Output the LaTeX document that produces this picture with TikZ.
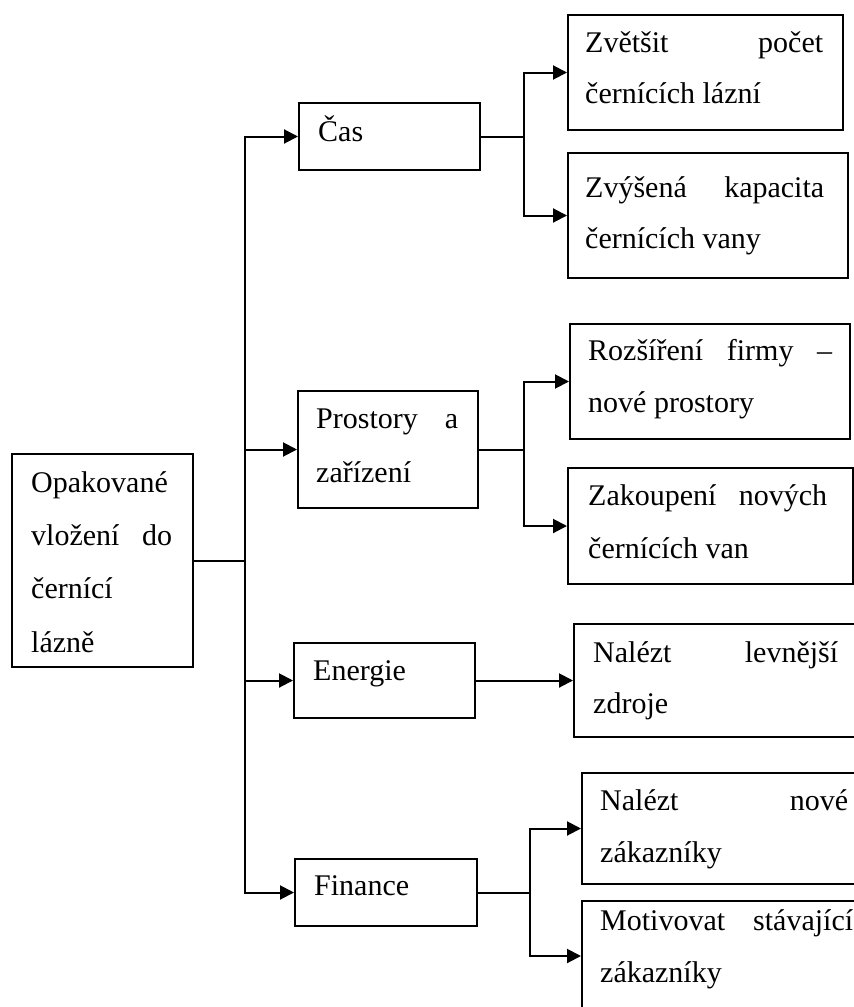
\documentclass[tikz,border=0pt]{standalone}
\usepackage{fontspec}
\setmainfont{Liberation Serif}
\usetikzlibrary{arrows.meta}
\begin{document}
\begin{tikzpicture}[x=1pt,y=-1pt,
  box/.style={draw, line width=2pt, inner sep=0pt, anchor=north west},
  txt/.style={anchor=base west, inner sep=0pt, font=\fontsize{30}{53}\selectfont},
  link/.style={line width=2pt, line cap=rect},
  arr/.style={link, -{Triangle[length=14pt,width=14pt]}}]
\useasboundingbox (0,0) rectangle (854,1007);
\clip (0,0) rectangle (854,1007);
% boxes
\node[box, minimum width=181pt, minimum height=213pt] (root) at (11,453) {};
\node[box, minimum width=181pt, minimum height=67pt] (cas) at (298,102) {};
\node[box, minimum width=180pt, minimum height=117pt] (pro) at (297,390) {};
\node[box, minimum width=181pt, minimum height=75pt] (ene) at (293,642) {};
\node[box, minimum width=182pt, minimum height=67pt] (fin) at (294,858) {};
\node[box, minimum width=275pt, minimum height=115pt] (z1) at (567,14) {};
\node[box, minimum width=280pt, minimum height=125pt] (z2) at (567,152) {};
\node[box, minimum width=280pt, minimum height=115pt] (r1) at (569,323) {};
\node[box, minimum width=285pt, minimum height=116pt] (r2) at (567,467) {};
\node[box, minimum width=290pt, minimum height=113pt] (n1) at (573,623) {};
\node[box, minimum width=290pt, minimum height=111pt] (f1) at (581,772) {};
\node[box, minimum width=290pt, minimum height=110pt] (f2) at (581,900) {};
% texts
\node[txt] (t01) at (31,492) {Opakované};
\node[txt] (t02) at (31,545) {\makebox[141pt][s]{vložení do}};
\node[txt] (t03) at (31,598) {černící};
\node[txt] (t04) at (31,652) {lázně};
\node[txt] (t05) at (318,141) {Čas};
\node[txt] (t06) at (316,428) {\makebox[142pt][s]{Prostory a}};
\node[txt] (t07) at (316,482) {zařízení};
\node[txt] (t08) at (313,680) {Energie};
\node[txt] (t09) at (314,895) {Finance};
\node[txt] (t10) at (585,52) {\makebox[238pt][s]{Zvětšit počet}};
\node[txt] (t11) at (585,103) {černících lázní};
\node[txt] (t12) at (585,197) {\makebox[239pt][s]{Zvýšená kapacita}};
\node[txt] (t13) at (585,248) {černících vany};
\node[txt] (t14) at (588,360) {\makebox[244pt][s]{Rozšíření firmy –}};
\node[txt] (t15) at (588,412) {nové prostory};
\node[txt] (t16) at (588,505) {\makebox[239pt][s]{Zakoupení nových}};
\node[txt] (t17) at (588,558) {černících van};
\node[txt] (t18) at (593,662) {\makebox[245pt][s]{Nalézt levnější}};
\node[txt] (t19) at (593,713) {zdroje};
\node[txt] (t20) at (600,810) {\makebox[248pt][s]{Nalézt nové}};
\node[txt] (t21) at (600,862) {zákazníky};
\node[txt] (t22) at (600,930) {\makebox[253pt][s]{Motivovat stávající}};
\node[txt] (t23) at (600,982) {zákazníky};
% connectors
\draw[link] (root.east) -- ++(51,0) coordinate (tr);
\draw[arr] (tr) |- (cas.west);
\draw[arr] (tr) |- (pro.west);
\draw[arr] (tr) |- (ene.west);
\draw[arr] (tr) |- (fin.west);
\draw[link] (cas.east) -- ++(43,0) coordinate (bc);
\draw[arr] (bc) |- (z1.west);
\draw[arr] (bc) |- (z2.west);
\draw[link] (pro.east) -- ++(45,0) coordinate (bp);
\draw[arr] (bp) |- (r1.west);
\draw[arr] (bp) |- (r2.west);
\draw[arr] (ene.east) -- (n1.west);
\draw[link] (fin.east) -- ++(52,0) coordinate (bf);
\draw[arr] (bf) |- (f1.west);
\draw[arr] (bf) |- (f2.west);
\end{tikzpicture}
\end{document}
